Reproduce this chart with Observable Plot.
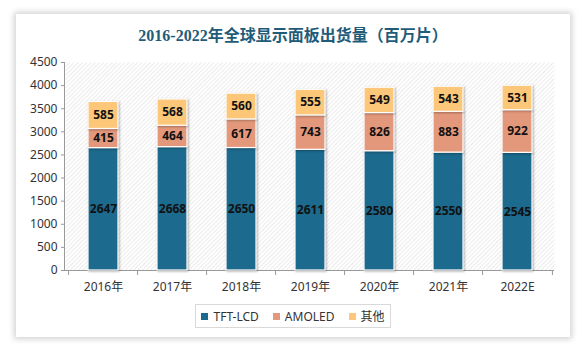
<!DOCTYPE html>
<html><head><meta charset="utf-8">
<script src="https://cdn.jsdelivr.net/npm/d3@7"></script>
<script src="https://cdn.jsdelivr.net/npm/@observablehq/plot@0.6"></script>
<style>
body{margin:0;background:#fff;}
#wrap{position:relative;width:586px;height:351px;overflow:hidden;background:#fff;}
#card{position:absolute;left:16px;top:14px;width:554px;height:323px;background:#fff;box-shadow:0 0 6px 2px rgba(0,0,0,0.18);}
#title{position:absolute;left:0;top:22px;width:586px;text-align:center;font:bold 16px "Liberation Serif","Noto Sans CJK SC",serif;color:#1f5c7a;}
#chart{position:absolute;left:0;top:50px;}
#legend{position:absolute;left:195px;top:304px;width:194px;height:22px;border:1px solid #d9d9d9;display:flex;align-items:center;justify-content:center;gap:14px;font:12px "Noto Sans","Noto Sans CJK SC",sans-serif;color:#333;}
#legend span.sw{display:inline-block;width:7px;height:7px;margin-right:5px;vertical-align:middle;position:relative;top:-1px;}
</style></head>
<body>
<div id="wrap">
<div id="card"></div>
<div id="title">2016-2022年全球显示面板出货量（百万片）</div>
<div id="chart"></div>
<div id="legend"></div>
</div>
<script>
const years = ["2016年","2017年","2018年","2019年","2020年","2021年","2022E"];
const seriesNames = ["TFT-LCD","AMOLED","其他"];
const tftLcd = [2647,2668,2650,2611,2580,2550,2545];
const amoled = [415,464,617,743,826,883,922];
const other = [585,568,560,555,549,543,531];
const yTicks = [0,500,1000,1500,2000,2500,3000,3500,4000,4500];
const colors = ["#1c6a8d","#e3987b","#fdc77a"];

const seriesValues = [tftLcd, amoled, other];
const data = [];
seriesNames.forEach((s, si) => years.forEach((y, i) => data.push({year: y, series: s, value: seriesValues[si][i]})));

const W = 586, mL = 65, mR = 32;
const half = (W - mL - mR) / years.length / 2;

const plot = Plot.plot({
  width: W, height: 250,
  marginLeft: mL, marginRight: mR, marginTop: 12, marginBottom: 30,
  style: {fontFamily: '"Noto Sans","Noto Sans CJK SC",sans-serif', fontSize: "12px", color: "#333", background: "transparent"},
  x: {domain: years, paddingInner: 0.57, paddingOuter: 0.285, label: null},
  y: {domain: [0, 4500], ticks: yTicks, label: null},
  color: {domain: seriesNames, range: colors},
  marks: [
    Plot.frame({fill: "url(#hatch)", stroke: null}),
    Plot.axisY({ticks: yTicks, tickFormat: d => String(d), tickSize: 4, tickPadding: 4, stroke: "#999", fontSize: 12, fill: "#333", label: null}),
    Plot.axisX({tickSize: 0, tickPadding: 12, fontSize: 12, fill: "#333", label: null}),
    Plot.ruleY([0], {stroke: "#999"}),
    Plot.ruleX(years, {x: d => d, dx: -half, y1: 0, y2: 0, insetBottom: -5, stroke: "#999"}),
    Plot.ruleX([years[years.length-1]], {x: d => d, dx: half, y1: 0, y2: 0, insetBottom: -5, stroke: "#999"}),
    Plot.barY(data, Plot.stackY({x: "year", y: "value", fill: "series", order: seriesNames, stroke: "#fff", strokeWidth: 1.2})),
    Plot.text(data, Plot.stackY({x: "year", y: "value", z: "series", order: seriesNames, text: d => String(d.value), fill: "#111", fontWeight: "bold", fontSize: 12}))
  ]
});

const ns = "http://www.w3.org/2000/svg";
const defs = document.createElementNS(ns, "defs");
defs.innerHTML = '<pattern id="hatch" width="3" height="3" patternUnits="userSpaceOnUse" patternTransform="rotate(45)"><rect width="3" height="3" fill="#ffffff"/><line x1="0" y1="0" x2="0" y2="3" stroke="#dcdcdc" stroke-width="1.1"/></pattern>';
plot.insertBefore(defs, plot.firstChild);
const ys = plot.scale("y");
const ax = document.createElementNS(ns, "line");
ax.setAttribute("x1", mL - 0.5); ax.setAttribute("x2", mL - 0.5);
ax.setAttribute("y1", ys.apply(0)); ax.setAttribute("y2", ys.apply(4500));
ax.setAttribute("stroke", "#999");
plot.appendChild(ax);
plot.querySelectorAll('g[aria-label="bar"] rect').forEach(r => r.style.filter = "drop-shadow(1.5px 1px 1px rgba(0,0,0,0.3))");
document.getElementById("chart").appendChild(plot);

const lg = document.getElementById("legend");
seriesNames.forEach((s, i) => {
  const it = document.createElement("span");
  it.innerHTML = '<span class="sw" style="background:' + colors[i] + '"></span>' + s;
  lg.appendChild(it);
});
</script>
</body></html>
